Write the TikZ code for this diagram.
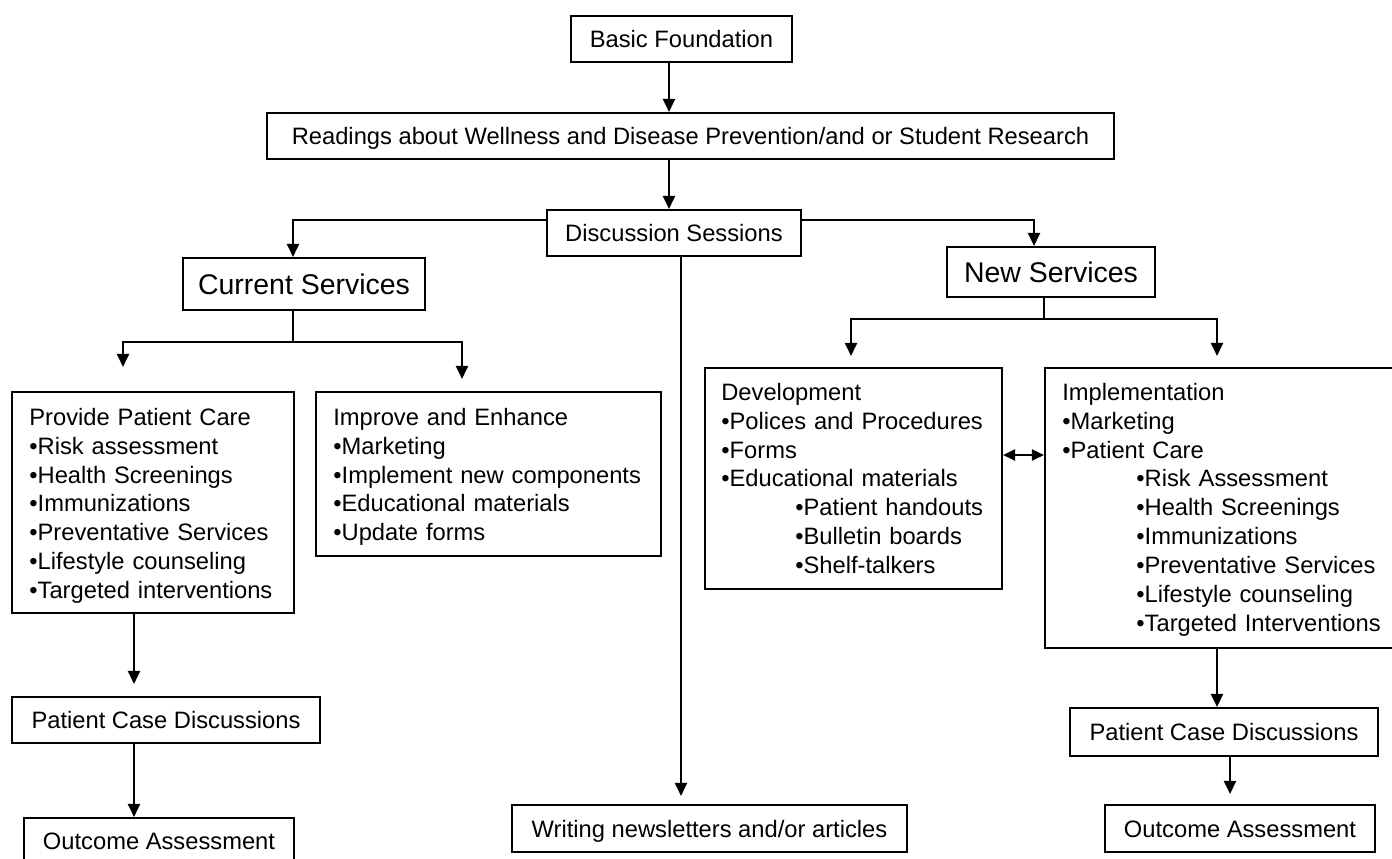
\documentclass[tikz,border=0pt]{standalone}
\usepackage{fontspec}
\setmainfont{Liberation Sans}
\usetikzlibrary{arrows.meta,calc}
\begin{document}
\begin{tikzpicture}[x=0.2mm,y=-0.2mm,
  every node/.style={font=\fontsize{13.5}{16.5}\selectfont},
  box/.style={draw,line width=1.2pt,inner sep=0pt,text height=9.67pt,text depth=0pt},
  bigbox/.style={box,font=\fontsize{16.2}{19}\selectfont,text height=11.6pt},
  frame/.style={draw,line width=1.2pt,inner sep=0pt},
  list/.style={inner sep=0pt,anchor=base west,text width=66mm,align=left},
  line/.style={line width=1.2pt},
  arr/.style={line width=1.2pt,-{Triangle[length=2.6mm,width=2.4mm]}},
  darr/.style={line width=1.2pt,{Triangle[length=2.4mm,width=2.2mm]}-{Triangle[length=2.4mm,width=2.2mm]}}]
\useasboundingbox (0,0) rectangle (1392,858);
\fill[white] (0,0) rectangle (1392,858);
\clip (0,0) rectangle (1392,858);

% single-line boxes
\node[box,minimum width=44.2mm,minimum height=9.2mm] (basic) at (681.5,39) {Basic Foundation};
\node[box,minimum width=169.4mm,minimum height=9.2mm] (readings) at (690.5,136) {Readings about Wellness and Disease Prevention/and or Student Research};
\node[box,minimum width=50.8mm,minimum height=9.2mm] (disc) at (674,233) {Discussion Sessions};
\node[bigbox,minimum width=48.4mm,minimum height=10.4mm] (current) at (304,284) {Current Services};
\node[bigbox,minimum width=41.6mm,minimum height=10mm] (new) at (1051,272) {New Services};
\node[box,minimum width=61.6mm,minimum height=9.2mm] (pcd1) at (166,720) {Patient Case Discussions};
\node[box,minimum width=54mm,minimum height=9.2mm] (out1) at (159,841) {Outcome Assessment};
\node[box,minimum width=79mm,minimum height=9.4mm] (writing) at (709.5,828.5) {Writing newsletters and/or articles};
\node[box,minimum width=61.6mm,minimum height=9.6mm] (pcd2) at (1224,732) {Patient Case Discussions};
\node[box,minimum width=54mm,minimum height=9.4mm] (out2) at (1240,828.5) {Outcome Assessment};

% multi-line boxes
\node[frame,minimum width=56.4mm,minimum height=44.2mm] (provide) at (153,502.5) {};
\node[frame,minimum width=69mm,minimum height=32.8mm] (improve) at (488.5,474) {};
\node[frame,minimum width=59.4mm,minimum height=44.2mm] (dev) at (853.5,478.5) {};
\node[frame,minimum width=71mm,minimum height=56mm] (impl) at (1222.5,508) {};

\node[list] (providetext) at (29,425) {Provide Patient Care\\
•Risk assessment\\
•Health Screenings\\
•Immunizations\\
•Preventative Services\\
•Lifestyle counseling\\
•Targeted interventions};
\node[list] (improvetext) at (333,425) {Improve and Enhance\\
•Marketing\\
•Implement new components\\
•Educational materials\\
•Update forms};
\node[list] (devtext) at (721,400) {Development\\
•Polices and Procedures\\
•Forms\\
•Educational materials\\
\hspace*{14.8mm}•Patient handouts\\
\hspace*{14.8mm}•Bulletin boards\\
\hspace*{14.8mm}•Shelf-talkers};
\node[list] (impltext) at (1062,400) {Implementation\\
•Marketing\\
•Patient Care\\
\hspace*{14.8mm}•Risk Assessment\\
\hspace*{14.8mm}•Health Screenings\\
\hspace*{14.8mm}•Immunizations\\
\hspace*{14.8mm}•Preventative Services\\
\hspace*{14.8mm}•Lifestyle counseling\\
\hspace*{14.8mm}•Targeted Interventions};

% helper coordinates
\coordinate (a1) at (669,0);
\coordinate (dy) at (0,220);
\coordinate (cx1) at (293,0);
\coordinate (cx2) at (1034,0);
\coordinate (cw) at (681,0);
\coordinate (cb) at (293,342);
\coordinate (l1) at (123,0);
\coordinate (l2) at (462,0);
\coordinate (nb) at (1044,319);
\coordinate (r1) at (851,0);
\coordinate (r2) at (1217,0);
\coordinate (dd) at (0,455);
\coordinate (c1) at (134,0);
\coordinate (c2) at (1230,0);

% connectors
\draw[arr] (basic.south -| a1) -- (readings.north -| a1);
\draw[arr] (readings.south -| a1) -- (disc.north -| a1);
\draw[arr] (disc.west |- dy) -| (current.north -| cx1);
\draw[arr] (disc.east |- dy) -| (new.north -| cx2);
\draw[arr,shorten >=1.6mm] (disc.south -| cw) -- (writing.north -| cw);

\draw[line] (current.south -| cb) -- (cb);
\draw[arr,shorten >=4.8mm] (cb) -| (provide.north -| l1);
\draw[arr,shorten >=2.4mm] (cb) -| (improve.north -| l2);

\draw[line] (new.south -| nb) -- (nb);
\draw[arr,shorten >=2.2mm] (nb) -| (dev.north -| r1);
\draw[arr,shorten >=2.2mm] (nb) -| (impl.north -| r2);

\draw[darr] (dev.east |- dd) -- (impl.west |- dd);

\draw[arr,shorten >=2.4mm] (provide.south -| c1) -- (pcd1.north -| c1);
\draw[arr] (pcd1.south -| c1) -- (out1.north -| c1);
\draw[arr] (impl.south -| r2) -- (pcd2.north -| r2);
\draw[arr,shorten >=2mm] (pcd2.south -| c2) -- (out2.north -| c2);
\end{tikzpicture}
\end{document}
